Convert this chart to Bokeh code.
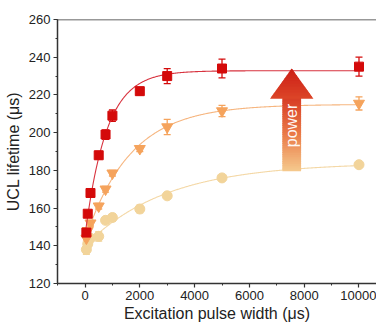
import numpy as np
from bokeh.plotting import figure
from bokeh.models import (ColumnDataSource, Whisker, TeeHead, Span, FixedTicker,
                          SingleIntervalTicker, Range1d)
from bokeh.core.properties import value
from bokeh.embed import file_html
from bokeh.resources import INLINE

# ---- data ----
pulse_width = [50, 100, 200, 500, 750, 1000, 2000, 3000, 5000, 10000]
high_power = [147, 157, 168, 188, 199, 209, 222, 230, 234, 235]
high_err = [1.5, 1.5, 1.5, 2, 2.5, 3, 2, 4, 5, 5]
mid_power = [144, 148, 152, 161, 170, 178.5, 191.5, 203, 211.5, 215.5]
mid_err = [1.5, 1.5, 1.5, 1.5, 1.5, 1.5, 1.5, 4, 3, 3.5]
low_power = [138, 141, 144, 145, 153.5, 155, 159.5, 166.5, 176, 183]
low_err = [2.5, 2, 1.5, 2.5, 1.5, 2, 2, 1, 1, 1]

x_ticks = [0, 2000, 4000, 6000, 8000, 10000]
x_minor = [-1000, 1000, 3000, 5000, 7000, 9000]

# arrow annotation geometry (data units)
arrow_cx = 7545
arrow_head_half = 792
arrow_shaft_half = 341
arrow_tip = 234.0
arrow_base = 217.95
arrow_bottom = 179.55

RED = "#d40a0a"
ORANGE = "#f5a35c"
YELLOW = "#f2d49a"
FONT = "Liberation Sans"
AX = "#333333"

p = figure(width=376, height=324, output_backend="svg", toolbar_location=None,
           x_range=Range1d(-1004, 10639), y_range=Range1d(120, 260),
           min_border_left=57, min_border_top=19, min_border_right=0,
           min_border_bottom=40)
p.outline_line_color = None
p.xgrid.visible = False
p.ygrid.visible = False
p.background_fill_color = "white"
p.border_fill_color = "white"

p.xaxis.ticker = FixedTicker(ticks=x_ticks, minor_ticks=x_minor)
p.yaxis.ticker = SingleIntervalTicker(interval=20, num_minor_ticks=2)
for ax in (p.xaxis[0], p.yaxis[0]):
    ax.axis_line_color = AX
    ax.axis_line_width = 1.5
    ax.major_tick_line_color = AX
    ax.minor_tick_line_color = AX
    ax.major_tick_out = 4
    ax.major_tick_in = 0
    ax.minor_tick_out = 2
    ax.minor_tick_in = 0
    ax.major_tick_line_width = 1.2
    ax.major_label_text_font = FONT
    ax.major_label_text_font_size = "13px"
    ax.major_label_text_color = "#222222"
    ax.axis_label_text_font = FONT
    ax.axis_label_text_font_size = "16px"
    ax.axis_label_text_font_style = "normal"
    ax.axis_label_text_color = "#222222"
p.xaxis.axis_label = "Excitation pulse width (μs)"
p.yaxis.axis_label = "UCL lifetime (μs)"
p.yaxis.major_label_standoff = 3
p.yaxis.axis_label_standoff = 4
p.xaxis.major_label_standoff = 3
p.xaxis.axis_label_standoff = 2

p.add_layout(Span(location=260, dimension="width", line_color=AX, line_width=1.5))

# fitted saturating-exponential curves
def fit_curve(x, y):
    x = np.asarray(x, float)
    y = np.asarray(y, float)
    best = None
    for tau in np.linspace(100, 6000, 591):
        M = np.column_stack([np.ones_like(x), -np.exp(-x / tau)])
        coef, *_ = np.linalg.lstsq(M, y, rcond=None)
        sse = np.sum((M @ coef - y) ** 2)
        if best is None or sse < best[0]:
            best = (sse, tau, coef)
    _, tau, (a, b) = best
    xs = np.linspace(0, 10000, 400)
    return xs, a - b * np.exp(-xs / tau)

series = [
    (low_power, low_err, YELLOW, "#f4d8a6", "circle", 10),
    (mid_power, mid_err, ORANGE, "#f6b680", "inverted_triangle", 11),
    (high_power, high_err, RED, "#d8333f", "square", 9),
]
for vals, err, col, lcol, marker, size in series:
    xs, ys = fit_curve(pulse_width, vals)
    p.line(xs, ys, line_color=lcol, line_width=1.1)
    src = ColumnDataSource(dict(
        x=pulse_width, y=vals,
        lo=[v - e for v, e in zip(vals, err)],
        hi=[v + e for v, e in zip(vals, err)]))
    p.add_layout(Whisker(source=src, base="x", upper="hi", lower="lo",
                         dimension="height", line_color=col, line_width=1.3,
                         upper_head=TeeHead(size=7, line_color=col, line_width=1.3),
                         lower_head=TeeHead(size=7, line_color=col, line_width=1.3)))
    p.scatter("x", "y", source=src, marker=marker, size=size,
              fill_color=col, line_color=col)

# gradient arrow
def hx(c):
    return [int(c[i:i + 2], 16) for i in (1, 3, 5)]

def grad(stops, t):
    for (p0, c0), (p1, c1) in zip(stops[:-1], stops[1:]):
        if t <= p1:
            u = (t - p0) / (p1 - p0)
            a, b = hx(c0), hx(c1)
            return "#%02x%02x%02x" % tuple(int(round(a[k] + (b[k] - a[k]) * u)) for k in range(3))
    return stops[-1][1]

shaft_stops = [(0.0, "#f5ca8e"), (0.5, "#ea7c48"), (1.0, "#d83e26")]
n = 40
edges = np.linspace(arrow_bottom, arrow_base, n + 1)
p.quad(left=[arrow_cx - arrow_shaft_half] * n, right=[arrow_cx + arrow_shaft_half] * n,
       bottom=edges[:-1], top=edges[1:] + 0.6,
       fill_color=[grad(shaft_stops, (i + 0.5) / n) for i in range(n)],
       line_color=None)
m = 20
hy = np.linspace(arrow_base, arrow_tip, m + 1)
xs_list, ys_list, cols = [], [], []
for i in range(m):
    y0, y1 = hy[i], hy[i + 1]
    y1e = min(y1 + 0.5, arrow_tip)
    w0 = arrow_head_half * (arrow_tip - y0) / (arrow_tip - arrow_base)
    w1 = arrow_head_half * (arrow_tip - y1e) / (arrow_tip - arrow_base)
    xs_list.append([arrow_cx - w0, arrow_cx + w0, arrow_cx + w1, arrow_cx - w1])
    ys_list.append([y0, y0, y1e, y1e])
    cols.append(grad([(0.0, "#dc4628"), (1.0, "#cc1e16")], (i + 0.5) / m))
p.patches(xs_list, ys_list, fill_color=cols, line_color=None)

p.text(x=[arrow_cx], y=[203.8], text=["power"], angle=np.pi / 2,
       text_align="center", text_baseline="middle", text_color="white",
       text_font=value(FONT), text_font_size="16px", text_alpha=0.95)

open("out.html", "w").write(file_html(p, INLINE))
